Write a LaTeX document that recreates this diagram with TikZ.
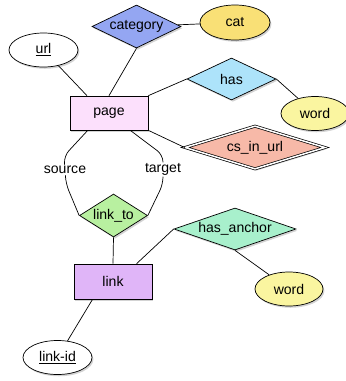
\documentclass[tikz,border=0pt]{standalone}
\usepackage{fontspec}
\setmainfont{Liberation Sans}
\usetikzlibrary{shapes.geometric,shadows,calc}
\definecolor{catblue}{RGB}{148,166,242}
\definecolor{catyellow}{RGB}{249,224,118}
\definecolor{pagepink}{RGB}{252,224,252}
\definecolor{hasblue}{RGB}{173,227,250}
\definecolor{wordyellow}{RGB}{250,245,160}
\definecolor{cssalmon}{RGB}{247,185,168}
\definecolor{linkgreen}{RGB}{184,240,160}
\definecolor{anchormint}{RGB}{168,240,204}
\definecolor{linklilac}{RGB}{224,181,248}

\begin{document}
\begin{tikzpicture}[x=0.03cm, y=-0.03cm, line width=0.6pt,
  every node/.style={font=\fontsize{12}{14}\selectfont},
  shadowed/.style={drop shadow={opacity=0.35, shadow xshift=1.2pt, shadow yshift=-1.5pt}},
  entity/.style={draw, rectangle, shadowed, inner sep=0pt, minimum width=2.34cm, minimum height=1.02cm},
  attr/.style={draw, ellipse, shadowed, inner sep=0pt, minimum width=2.07cm, minimum height=1.02cm},
  rel/.style={draw, diamond, shadowed, inner sep=0pt, aspect=2},
  role/.style={fill=white, inner sep=1pt}]
\useasboundingbox (0,0) rectangle (346,381);

\node[entity, fill=pagepink] (page) at (109,113) {page};
\node[entity, fill=linklilac, minimum height=1.05cm] (link) at (113,281.5) {link};

\node[attr, fill=white] (url) at (43.5,50) {\underline{url}};
\node[attr, fill=catyellow, minimum width=2.1cm, minimum height=1.05cm] (cat) at (235,22.5) {cat};
\node[attr, fill=wordyellow, minimum width=2.04cm] (word1) at (315,113.5) {word};
\node[attr, fill=wordyellow, minimum width=2.04cm] (word2) at (289,289) {word};
\node[attr, fill=white] (linkid) at (57.5,357.5) {\underline{link-id}};

\node[rel, fill=catblue, minimum width=2.67cm, minimum height=1.29cm] (category) at (136.5,26.5) {category};
\node[rel, fill=hasblue, minimum width=2.67cm, minimum height=1.26cm] (has) at (231.5,79) {has};
\node[rel, fill=cssalmon, aspect=3, double, double distance=1.3pt, minimum width=4.2cm, minimum height=1.29cm] (csinurl) at (255,147.5) {cs\_in\_url};
\node[rel, fill=linkgreen, aspect=1.6, minimum width=2.04cm, minimum height=1.29cm] (linkto) at (113.5,215.5) {link\_to};
\node[rel, fill=anchormint, aspect=3, minimum width=3.66cm, minimum height=1.26cm] (hasanchor) at (235,229) {has\_anchor};

\draw (url) -- ($(page.north west)!0.22!(page.north east)$);
\draw (category.south) -- (page.north);
\draw (category) -- (cat);
\draw (page.north east) -- (has.west);
\draw (has.east) -- (word1);
\draw (page.south east) -- (csinurl.west);
\draw[rounded corners=6pt] ($(page.south west)!0.23!(page.south east)$) -- (64,156) -- node[role] (source) {source} (66,184) -- (linkto.west);
\draw[rounded corners=6pt] ($(page.south west)!0.77!(page.south east)$) -- (163,155) -- node[role] (target) {target} (163,184) -- (linkto.east);
\draw (linkto.south) -- (link.north);
\draw ($(link.north west)!0.8!(link.north east)$) -- (hasanchor.west);
\draw (hasanchor.south) -- (word2);
\draw ($(link.south west)!0.24!(link.south east)$) -- (linkid);
\end{tikzpicture}
\end{document}
